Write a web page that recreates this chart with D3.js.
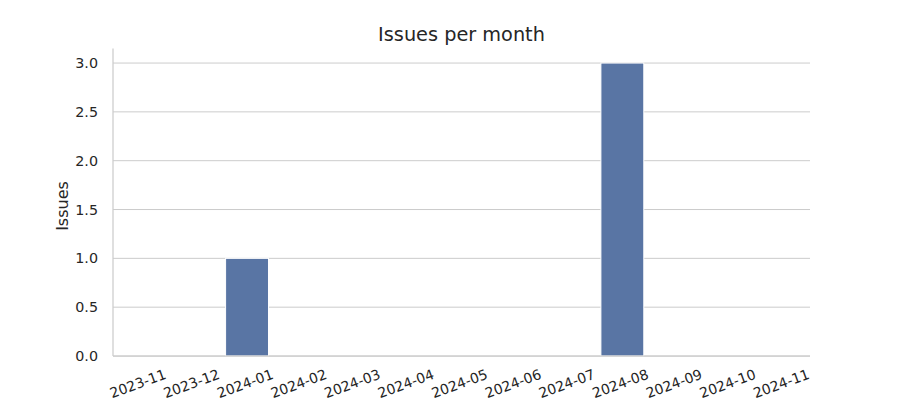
<!DOCTYPE html>
<html><head><meta charset="utf-8">
<script src="https://cdn.jsdelivr.net/npm/d3@7"></script>
<style>body{margin:0;background:#fff;} text{font-family:"DejaVu Sans",sans-serif;fill:#262626;}</style>
</head><body>
<svg id="c" width="900" height="400"></svg>
<script>
const months = ["2023-11","2023-12","2024-01","2024-02","2024-03","2024-04","2024-05","2024-06","2024-07","2024-08","2024-09","2024-10","2024-11"];
const issues = [0,0,1,0,0,0,0,0,0,3,0,0,0];
const yTicks = [0,0.5,1,1.5,2,2.5,3];

const svg = d3.select("#c");
const L = 113, R = 810, T = 48.4, B = 356;
const x = d3.scaleBand().domain(months).range([L, R]).paddingInner(0.2).paddingOuter(0.1);
const y = d3.scaleLinear().domain([0, 3.15]).range([B, T]);

svg.append("g").selectAll("line").data(yTicks).join("line")
  .attr("x1", L).attr("x2", R).attr("y1", d => y(d)).attr("y2", d => y(d))
  .attr("stroke", "#cccccc").attr("stroke-width", 1);

svg.append("g").selectAll("rect").data(months.map((m,i)=>({m, v: issues[i]}))).join("rect")
  .attr("x", d => x(d.m)).attr("width", x.bandwidth())
  .attr("y", d => y(d.v)).attr("height", d => y(0) - y(d.v))
  .attr("fill", "#5975a4").attr("stroke", "#ffffff").attr("stroke-width", 1);

svg.append("line").attr("x1", L).attr("x2", L).attr("y1", T).attr("y2", B).attr("stroke", "#cccccc").attr("stroke-width", 1.25);
svg.append("line").attr("x1", L).attr("x2", R).attr("y1", B).attr("y2", B).attr("stroke", "#cccccc").attr("stroke-width", 1.25);

svg.append("g").selectAll("text").data(yTicks).join("text")
  .attr("x", 98).attr("y", d => y(d)).attr("dy", "0.36em")
  .attr("text-anchor", "end").attr("font-size", "14.3px")
  .text(d => d3.format(".1f")(d));

svg.append("g").selectAll("text").data(months).join("text")
  .attr("transform", d => `translate(${x(d) + x.bandwidth()/2 - 2},383.5) rotate(-20)`)
  .attr("text-anchor", "middle").attr("dy", "0.36em").attr("font-size", "14px")
  .text(d => d);

svg.append("text").attr("transform", "translate(67.5,206) rotate(-90)")
  .attr("text-anchor", "middle").attr("font-size", "16px").text("Issues");

svg.append("text").attr("x", (L+R)/2).attr("y", 41).attr("text-anchor", "middle")
  .attr("font-size", "19.3px").text("Issues per month");
</script>
</body></html>
